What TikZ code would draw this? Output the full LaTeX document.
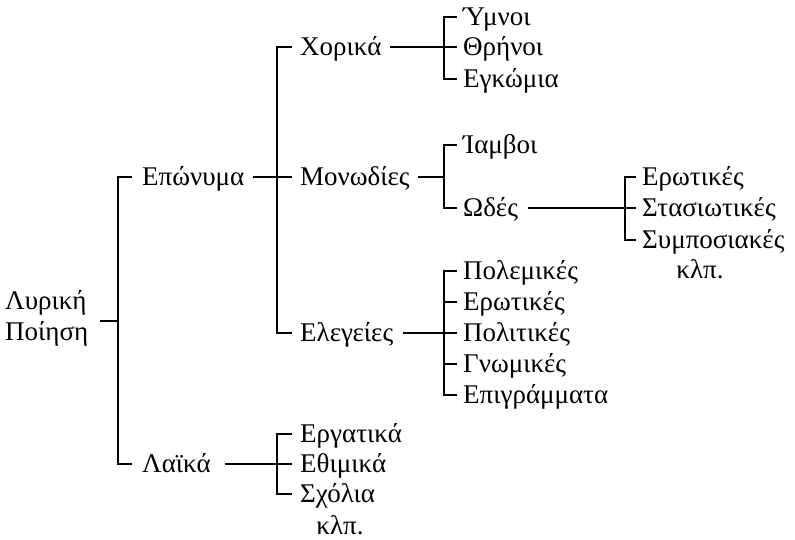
\documentclass[tikz,border=0pt]{standalone}
\usepackage{fontspec}
\setmainfont{Liberation Serif}
\begin{document}
\begin{tikzpicture}[x=1pt,y=-1pt,
  lbl/.style={anchor=west, inner sep=0pt, text height=18pt, text depth=1pt, font=\fontsize{27}{31}\selectfont},
  etc/.style={anchor=center, inner sep=0pt, text height=18pt, text depth=1pt, font=\fontsize{27}{31}\selectfont},
  link/.style={line width=1.4pt, line cap=butt}]
\useasboundingbox (0,0) rectangle (795,540);
% nodes
\node[anchor=west, inner sep=0pt, align=left, font=\fontsize{27}{31}\selectfont] (root) at (5,318) {Λυρική\\Ποίηση};
\node[lbl] (epo) at (142,177) {Επώνυμα};
\node[lbl] (lai) at (142,464) {Λαϊκά};
\node[lbl] (cho) at (300,47) {Χορικά};
\node[lbl] (mon) at (300,177) {Μονωδίες};
\node[lbl] (ele) at (300,333) {Ελεγείες};
\node[lbl] (erg) at (300,434) {Εργατικά};
\node[lbl] (eth) at (300,464) {Εθιμικά};
\node[lbl] (sko) at (300,494) {Σχόλια};
\node[etc] (klp1) at (340,526) {κλπ.};
\node[lbl] (ymn) at (463,17) {Ύμνοι};
\node[lbl] (thr) at (463,47) {Θρήνοι};
\node[lbl] (egk) at (463,79) {Εγκώμια};
\node[lbl] (iam) at (463,145) {Ίαμβοι};
\node[lbl] (ode) at (463,208) {Ωδές};
\node[lbl] (pol) at (463,271) {Πολεμικές};
\node[lbl] (ero) at (463,302) {Ερωτικές};
\node[lbl] (plt) at (463,333) {Πολιτικές};
\node[lbl] (gno) at (463,364) {Γνωμικές};
\node[lbl] (epi) at (463,395) {Επιγράμματα};
\node[lbl] (erb) at (642,177) {Ερωτικές};
\node[lbl] (sta) at (642,208) {Στασιωτικές};
\node[lbl] (sym) at (642,240) {Συμποσιακές};
\node[etc] (klp2) at (700,270) {κλπ.};
% bracket positions
\coordinate (b0) at (118,321);
\coordinate (b1) at (118,0);
\coordinate (b2) at (277,0);
\coordinate (b3) at (444,0);
\coordinate (b4) at (625,0);
% root
\draw[link] (root.east |- b0) ++(12pt,0) -- (b0);
\draw[link] ([xshift=-10pt]epo.west) -- (b1 |- epo.west) -- (b1 |- lai.west) -- ([xshift=-10pt]lai.west);
% level 1 -> level 2
\draw[link] ([xshift=9pt]epo.east) -- (b2 |- epo.east);
\draw[link] ([xshift=-8pt]cho.west) -- (b2 |- cho.west) -- (b2 |- ele.west) -- ([xshift=-8pt]ele.west);
\draw[link] (b2 |- mon.west) -- ([xshift=-8pt]mon.west);
\draw[link] ([xshift=14pt]lai.east) -- (b2 |- lai.east);
\draw[link] ([xshift=-8pt]erg.west) -- (b2 |- erg.west) -- (b2 |- sko.west) -- ([xshift=-8pt]sko.west);
\draw[link] (b2 |- eth.west) -- ([xshift=-8pt]eth.west);
% level 2 -> level 3
\draw[link] ([xshift=8pt]cho.east) -- (b3 |- cho.east);
\draw[link] ([xshift=-6pt]ymn.west) -- (b3 |- ymn.west) -- (b3 |- egk.west) -- ([xshift=-6pt]egk.west);
\draw[link] (b3 |- thr.west) -- ([xshift=-6pt]thr.west);
\draw[link] ([xshift=8pt]mon.east) -- (b3 |- mon.east);
\draw[link] ([xshift=-6pt]iam.west) -- (b3 |- iam.west) -- (b3 |- ode.west) -- ([xshift=-6pt]ode.west);
\draw[link] ([xshift=10pt]ele.east) -- (b3 |- ele.east);
\draw[link] ([xshift=-6pt]pol.west) -- (b3 |- pol.west) -- (b3 |- epi.west) -- ([xshift=-6pt]epi.west);
\draw[link] (b3 |- ero.west) -- ([xshift=-6pt]ero.west);
\draw[link] (b3 |- plt.west) -- ([xshift=-6pt]plt.west);
\draw[link] (b3 |- gno.west) -- ([xshift=-6pt]gno.west);
% level 3 -> level 4
\draw[link] ([xshift=10pt]ode.east) -- (b4 |- ode.east);
\draw[link] ([xshift=-6pt]erb.west) -- (b4 |- erb.west) -- (b4 |- sym.west) -- ([xshift=-6pt]sym.west);
\draw[link] (b4 |- sta.west) -- ([xshift=-6pt]sta.west);
\end{tikzpicture}
\end{document}
